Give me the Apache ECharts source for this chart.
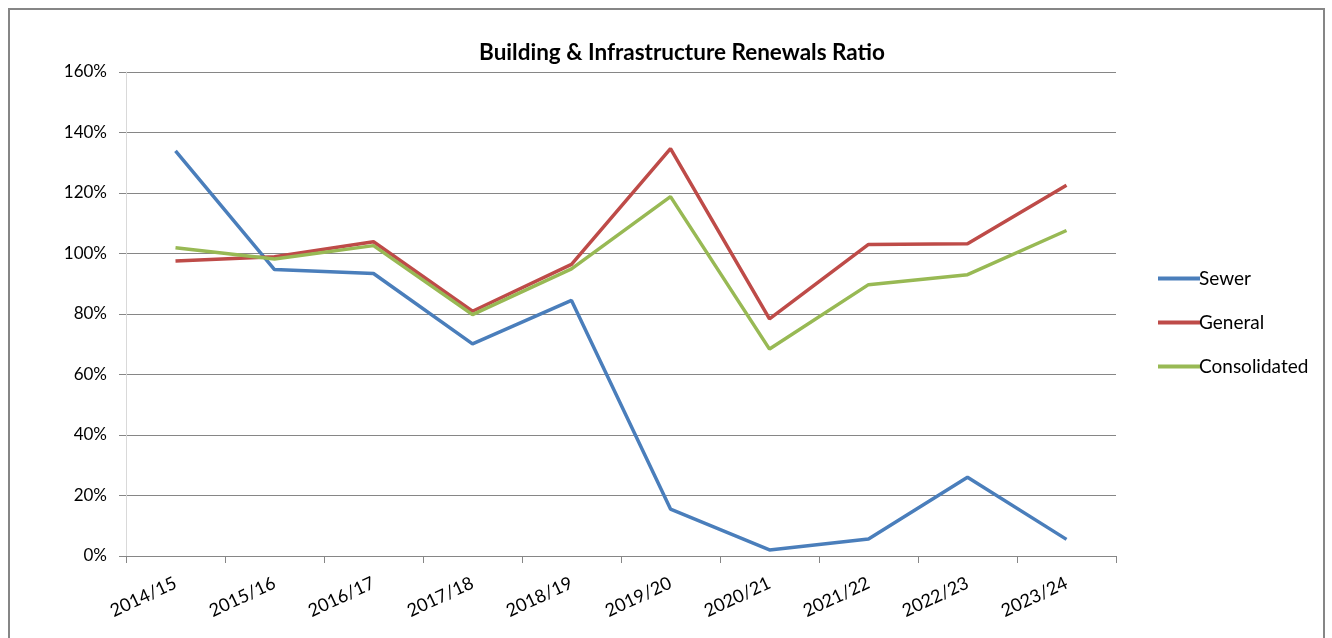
<!DOCTYPE html>
<html><head><meta charset="utf-8">
<script src="https://cdn.jsdelivr.net/npm/echarts@6/dist/echarts.min.js"></script>
<style>html,body{margin:0;padding:0;background:#fff}#c{width:1332px;height:638px}</style>
</head><body><div id="c"></div>
<script>
const categories = ['2014/15','2015/16','2016/17','2017/18','2018/19','2019/20','2020/21','2021/22','2022/23','2023/24'];
const sewer = [133.9, 94.7, 93.4, 70.1, 84.5, 15.5, 2.0, 5.6, 26.0, 5.5];
const general = [97.5, 98.9, 103.9, 80.9, 96.4, 134.7, 78.4, 103.0, 103.2, 122.6];
const consolidated = [101.9, 98.2, 102.6, 79.8, 94.9, 118.8, 68.4, 89.7, 93.0, 107.6];
const yTicks = [0, 20, 40, 60, 80, 100, 120, 140, 160];

const FONT = 'Lato';
const chart = echarts.init(document.getElementById('c'), null, {renderer: 'canvas'});
const mk = (name, data, color) => ({
  name, type: 'line', data, symbol: 'none', smooth: false,
  lineStyle: {color, width: 3.5}, itemStyle: {color}
});
chart.setOption({
  animation: false,
  backgroundColor: '#fff',
  title: {
    text: 'Building & Infrastructure Renewals Ratio',
    left: 677, top: 36, textAlign: 'center',
    textStyle: {fontFamily: FONT, fontWeight: 'bold', fontSize: 22.5, color: '#000'}
  },
  graphic: [{
    type: 'rect', shape: {x: 9, y: 9, width: 1315, height: 640},
    style: {fill: 'none', stroke: '#868686', lineWidth: 2}, silent: true
  }],
  legend: {
    orient: 'vertical', left: 1153, top: 264, itemGap: 25,
    itemWidth: 42, itemHeight: 4, icon: 'rect',
    textStyle: {fontFamily: FONT, fontSize: 19, color: '#000', padding: [0,0,0,-6]},
    data: ['Sewer', 'General', 'Consolidated']
  },
  grid: {left: 126, right: 216, top: 72, bottom: 82, containLabel: false},
  xAxis: {
    type: 'category', data: categories, boundaryGap: true,
    axisLine: {lineStyle: {color: '#868686', width: 1}},
    axisTick: {show: true, length: 7, lineStyle: {color: '#868686'}, alignWithLabel: false},
    axisLabel: {rotate: 25, margin: 26, fontFamily: FONT, fontSize: 18, color: '#000'},
    splitLine: {show: false}
  },
  yAxis: {
    type: 'value', min: 0, max: 160, interval: 20,
    axisLine: {show: true, lineStyle: {color: '#d9d9d9'}},
    axisTick: {show: true, length: 7, lineStyle: {color: '#868686'}},
    axisLabel: {margin: 19, fontFamily: FONT, fontSize: 17, color: '#000',
      formatter: v => yTicks.includes(v) ? v + '%' : ''},
    splitLine: {lineStyle: {color: '#868686', width: 1}}
  },
  series: [
    mk('Sewer', sewer, '#4a7ebb'),
    mk('General', general, '#be4b48'),
    mk('Consolidated', consolidated, '#98b954')
  ]
});
</script></body></html>
